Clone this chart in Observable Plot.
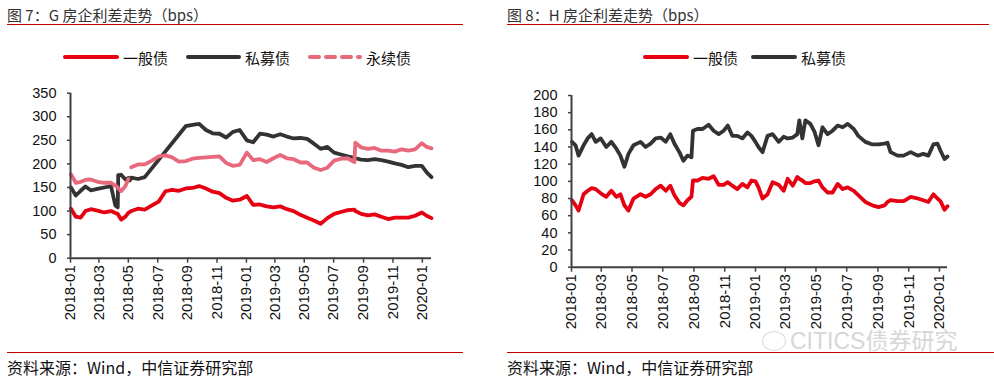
<!DOCTYPE html>
<html>
<head>
<meta charset="utf-8">
<script src="https://cdn.jsdelivr.net/npm/d3@7"></script>
<script src="https://cdn.jsdelivr.net/npm/@observablehq/plot@0.6"></script>
<style>
  html, body { margin: 0; padding: 0; background: #fff; }
  body { width: 994px; height: 384px; overflow: hidden; position: relative;
         font-family: "Noto Sans CJK SC", "Liberation Sans", sans-serif; }
  .title { position: absolute; top: 4px; font-size: 15px; line-height: 22px; color: #333; white-space: nowrap; }
  .rule { position: absolute; height: 1px; background: #c00000; }
  .leg { position: absolute; top: 47px; height: 20px; display: flex; align-items: center;
         font-size: 15px; color: #111; white-space: nowrap; }
  .leg svg { display: block; margin-right: 4px; }
  .chart { position: absolute; top: 80px; }
  .source { position: absolute; top: 357px; font-size: 16px; line-height: 20px; color: #111; white-space: nowrap; }
  .wm { position: absolute; left: 790px; top: 327px; font-size: 23px; line-height: 28px; color: #d6d6d6;
        font-family: "Liberation Sans", "Noto Sans CJK SC", sans-serif; white-space: nowrap; }
  .wmicon { position: absolute; left: 762px; top: 331px; width: 22px; height: 18px;
            border: 1.5px solid #d9d9d9; border-radius: 50%; }
</style>
</head>
<body>
<div class="title" style="left:7px">图 7：G 房企利差走势（bps）</div>
<div class="rule" style="left:7px; top:24px; width:456px"></div>
<div class="title" style="left:507px">图 8：H 房企利差走势（bps）</div>
<div class="rule" style="left:507px; top:24px; width:482px"></div>

<div id="legL"></div>
<div id="legR"></div>

<div id="chartL" class="chart" style="left:0px"></div>
<div id="chartR" class="chart" style="left:500px"></div>

<div class="rule" style="left:7px; top:352px; width:456px"></div>
<div class="rule" style="left:507px; top:352px; width:487px"></div>
<div class="wmicon"></div>
<div class="wm">CITICS债券研究</div>
<div class="source" style="left:7px">资料来源：Wind，中信证券研究部</div>
<div class="source" style="left:507px">资料来源：Wind，中信证券研究部</div>

<script>
// ---------------- DATA ----------------
const seriesNames = ["一般债", "私募债", "永续债"];
const xTickLabels = ["2018-01","2018-03","2018-05","2018-07","2018-09","2018-11",
                     "2019-01","2019-03","2019-05","2019-07","2019-09","2019-11","2020-01"];
const yTicksG = [0, 50, 100, 150, 200, 250, 300, 350];
const yTicksH = [0, 20, 40, 60, 80, 100, 120, 140, 160, 180, 200];

// Chart 7 (G developer)
const datesG = ["2018-01-02","2018-01-12","2018-01-22","2018-02-01","2018-02-12","2018-02-26","2018-03-12","2018-03-26",
  "2018-04-04","2018-04-09","2018-04-10","2018-04-16","2018-04-25","2018-05-01","2018-05-04","2018-05-07","2018-05-21",
  "2018-06-04","2018-06-19","2018-07-03","2018-07-17","2018-07-31","2018-08-14","2018-08-28","2018-09-11","2018-09-25",
  "2018-10-09","2018-10-23","2018-11-06","2018-11-20","2018-12-04","2018-12-18","2019-01-02","2019-01-15","2019-01-29",
  "2019-02-12","2019-02-26","2019-03-12","2019-03-26","2019-04-09","2019-04-23","2019-05-07","2019-05-21","2019-06-04",
  "2019-06-18","2019-07-02","2019-07-16","2019-07-30","2019-08-13","2019-08-15","2019-08-27","2019-09-10","2019-09-24",
  "2019-10-08","2019-10-22","2019-11-05","2019-11-19","2019-12-03","2019-12-17","2019-12-31","2020-01-10","2020-01-20"];
const generalG = [105,88,86,100,104,101,97,100,96,94,92,82,88,96,98,100,105,103,112,120,142,145,143,148,149,153,
  148,141,138,128,122,124,132,113,114,110,108,110,104,100,92,86,80,73,85,94,98,102,103,100,94,91,93,88,83,86,86,86,90,97,90,85];
// null inside = no data; this series is drawn connected across the missing stretch
const privateG = [150,133,143,152,144,147,150,153,112,108,176,177,167,170,165,171,168,172,null,null,null,null,null,280,283,285,
  272,265,264,256,268,272,250,246,264,262,258,263,258,254,255,253,243,232,236,224,220,216,213,212,209,208,210,208,205,201,198,193,196,196,182,172];
// null = gap in the line
const perpetualG = [178,160,162,166,167,162,160,160,154,150,148,142,153,168,null,193,199,199,207,216,218,214,205,206,211,213,
  214,215,216,202,196,198,224,208,210,204,212,219,212,210,203,203,192,187,192,207,211,212,204,245,235,232,234,228,228,226,231,228,231,244,236,233];

// Chart 8 (H developer)
const datesH = ["2018-01-02","2018-01-09","2018-01-15","2018-01-25","2018-02-02","2018-02-10","2018-02-18","2018-02-28",
  "2018-03-11","2018-03-21","2018-03-31","2018-04-08","2018-04-16","2018-04-24","2018-05-04","2018-05-18","2018-05-28",
  "2018-06-07","2018-06-17","2018-06-27","2018-07-07","2018-07-16","2018-07-24","2018-08-03","2018-08-11","2018-08-19",
  "2018-08-27","2018-08-30","2018-09-08","2018-09-18","2018-09-30","2018-10-10","2018-10-20","2018-10-30","2018-11-07",
  "2018-11-16","2018-11-26","2018-12-06","2018-12-16","2018-12-24","2019-01-01","2019-01-07","2019-01-15","2019-01-25",
  "2019-02-04","2019-02-16","2019-02-26","2019-03-06","2019-03-16","2019-03-25","2019-03-29","2019-04-04","2019-04-10",
  "2019-04-20","2019-04-28","2019-05-06","2019-05-14","2019-05-24","2019-06-03","2019-06-13","2019-06-23","2019-07-03",
  "2019-07-15","2019-07-24","2019-08-07","2019-08-21","2019-09-02","2019-09-14","2019-09-20","2019-09-26","2019-10-10",
  "2019-10-22","2019-11-05","2019-11-19","2019-11-30","2019-12-10","2019-12-20","2019-12-28","2020-01-03","2020-01-11","2020-01-17"];
const generalH = [78,72,66,85,89,92,91,86,82,89,82,85,72,66,80,85,82,85,91,95,89,95,84,75,72,78,82,101,101,104,
  103,106,96,96,99,95,91,97,93,101,100,93,80,85,99,96,89,103,95,105,103,101,98,98,100,101,93,87,87,97,
  91,93,89,84,76,72,70,72,76,78,77,77,82,80,78,76,85,80,77,67,71];
const privateH = [146,142,130,142,150,155,146,150,140,146,138,130,117,132,142,146,140,144,150,151,146,155,144,134,124,130,
  128,159,161,161,166,159,155,159,165,153,153,150,157,153,146,140,134,153,155,146,152,150,151,155,171,150,171,167,158,142,
  163,155,159,165,163,167,161,153,146,143,143,144,145,134,130,130,134,130,132,130,143,144,136,126,129];

const colors = { "一般债": "#e60012", "私募债": "#333333", "永续债": "#e8687c" };

// ---------------- LEGENDS ----------------
function legend(containerId, items) {
  const root = document.getElementById(containerId);
  for (const it of items) {
    const div = document.createElement("div");
    div.className = "leg";
    div.style.left = it.left + "px";
    const w = it.len + 4;
    const dash = it.dashed ? ` stroke-dasharray="9 7"` : "";
    div.innerHTML = `<svg width="${w}" height="8"><line x1="2" y1="4" x2="${it.len + 2}" y2="4" stroke="${colors[it.name]}" stroke-width="4" stroke-linecap="round"${dash}/></svg><span>${it.name}</span>`;
    root.appendChild(div);
  }
}
legend("legL", [
  { name: seriesNames[0], left: 63, len: 52 },
  { name: seriesNames[1], left: 186, len: 51 },
  { name: seriesNames[2], left: 308, len: 50, dashed: true }
]);
legend("legR", [
  { name: seriesNames[0], left: 643, len: 42 },
  { name: seriesNames[1], left: 751, len: 42 }
]);

// ---------------- CHARTS ----------------
const parse = d3.utcParse("%Y-%m-%d");
const parseM = d3.utcParse("%Y-%m");
const xTicks = xTickLabels.map(parseM);

function chart(el, cfg) {
  const marks = [];
  for (const s of cfg.series) {
    let data = cfg.dates.map((d, i) => ({ date: parse(d), value: s.values[i] == null ? NaN : s.values[i] }));
    if (s.connect) data = data.filter(d => !isNaN(d.value));
    marks.push(Plot.line(data, {
      x: "date", y: "value", stroke: colors[s.name], strokeWidth: 3.8,
      strokeLinejoin: "round", strokeLinecap: "round"
    }));
  }
  const p = Plot.plot({
    width: cfg.width, height: 250,
    marginLeft: cfg.ml, marginRight: cfg.mr, marginTop: cfg.mt, marginBottom: cfg.mb,
    style: { fontFamily: "'Liberation Sans', Arial, sans-serif", fontSize: "14.5px", color: "#111", background: "transparent", overflow: "visible" },
    x: { type: "utc", domain: [parse("2018-01-01"), parse(cfg.xEnd)] },
    y: { domain: [cfg.yTicks[0], cfg.yTicks[cfg.yTicks.length - 1]] },
    marks: [
      ...marks,
      Plot.axisY({ ticks: cfg.yTicks, tickSize: 3, tickPadding: 11, strokeWidth: 1.5, stroke: "#404040", label: null }),
      Plot.axisX({ ticks: xTicks, tickFormat: d3.utcFormat("%Y-%m"), tickRotate: -90, tickSize: 5, tickPadding: 2,
                   fontSize: 15, strokeWidth: 1.5, stroke: "#404040", label: null }),
      Plot.ruleY([cfg.yTicks[0]], { stroke: "#404040", strokeWidth: 2 }),
      Plot.ruleX([parse("2018-01-01")], { stroke: "#404040", strokeWidth: 2 })
    ]
  });
  document.getElementById(el).appendChild(p);
}

chart("chartL", {
  width: 470, ml: 70, mr: 39, mt: 12.7, mb: 72.3, xEnd: "2020-01-20", yTicks: yTicksG, dates: datesG,
  series: [
    { name: seriesNames[0], values: generalG },
    { name: seriesNames[1], values: privateG, connect: true },
    { name: seriesNames[2], values: perpetualG }
  ]
});
chart("chartR", {
  width: 494, ml: 71, mr: 47, mt: 15, mb: 63.3, xEnd: "2020-01-17", yTicks: yTicksH, dates: datesH,
  series: [
    { name: seriesNames[0], values: generalH },
    { name: seriesNames[1], values: privateH }
  ]
});
</script>
</body>
</html>
